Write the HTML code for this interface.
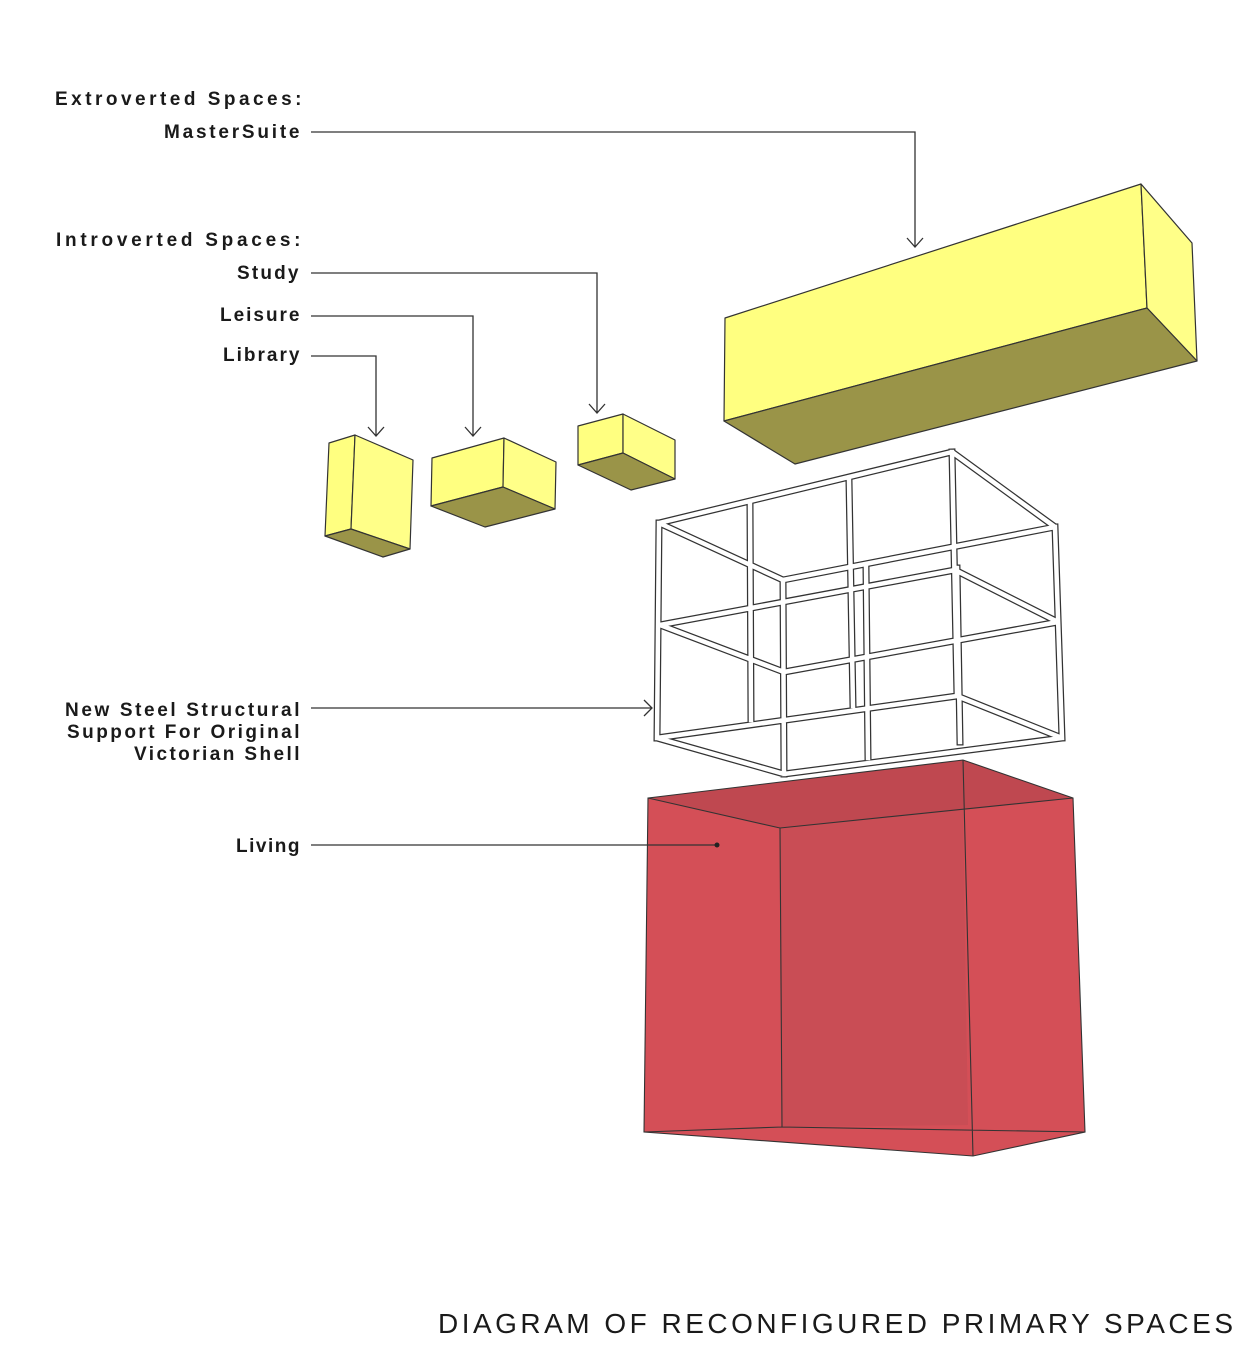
<!DOCTYPE html>
<html><head><style>body{margin:0;background:#fff}svg{display:block}</style></head><body>
<svg width="1250" height="1357" viewBox="0 0 1250 1357" xmlns="http://www.w3.org/2000/svg" font-family="Liberation Sans, sans-serif">
<g font-size="19" font-weight="bold" fill="#1a1a1a" letter-spacing="1.5">
<text x="55" y="105" textLength="248">Extroverted Spaces:</text>
<text x="301" y="138" text-anchor="end" textLength="137">MasterSuite</text>
<text x="56" y="246" textLength="246">Introverted Spaces:</text>
<text x="300" y="279" text-anchor="end" textLength="63">Study</text>
<text x="301" y="321" text-anchor="end" textLength="81">Leisure</text>
<text x="301" y="361" text-anchor="end" textLength="78">Library</text>
<text x="301" y="716" text-anchor="end" textLength="236">New Steel Structural</text>
<text x="301" y="738" text-anchor="end" textLength="234">Support For Original</text>
<text x="301" y="760" text-anchor="end" textLength="167">Victorian Shell</text>
<text x="301" y="852" text-anchor="end" textLength="65">Living</text>
</g>
<text x="438" y="1333" font-size="28" fill="#1a1a1a" textLength="795">DIAGRAM OF RECONFIGURED PRIMARY SPACES</text>
<g fill="none" stroke="#333" stroke-width="1.3">
<path d="M311 132H915V247M907 238L915 247L923 238"/>
<path d="M311 273H597V413M589 404L597 413L605 404"/>
<path d="M311 316H473V436M465 427L473 436L481 427"/>
<path d="M311 356H376V436M368 427L376 436L384 427"/>
<path d="M311 708H652M644 700L652 708L644 716"/>
</g>
<g stroke="#333" stroke-width="1.2" stroke-linejoin="round">
<polygon fill="#ffff80" points="329,443 355,435 351,529 325,536"/>
<polygon fill="#ffff88" points="355,435 413,460 410,549 351,529"/>
<polygon fill="#9a9448" points="325,536 351,529 410,549 383,557"/>
<polygon fill="#ffff80" points="432,458 504,438 503,487 431,506"/>
<polygon fill="#ffff88" points="504,438 556,462 555,509 503,487"/>
<polygon fill="#9a9448" points="431,506 503,487 555,509 485,527"/>
<polygon fill="#ffff80" points="578,426 623,414 623,453 578,465"/>
<polygon fill="#ffff88" points="623,414 675,440 675,479 623,453"/>
<polygon fill="#9a9448" points="578,465 623,453 675,479 631,490"/>
<polygon fill="#ffff80" points="725,318 1141,184 1147,308 724,421"/>
<polygon fill="#ffff88" points="1141,184 1192,243 1197,361 1147,308"/>
<polygon fill="#9a9448" points="724,421 1147,308 1197,361 795,464"/>
</g>
<g>
<polygon fill="#d44f57" points="648,798 963,760 1073,798 1085,1132 973,1156 644,1132"/>
<polygon fill="#bf4850" points="648,798 963,760 1073,798 780,828"/>
<polygon fill="#c94d55" points="780,828 963,810 968,1125 782,1127"/>
<g fill="none" stroke="#333" stroke-width="1.1">
<polygon points="648,798 963,760 1073,798 1085,1132 973,1156 644,1132"/>
<path d="M648,798 780,828 1073,798M780,828 782,1127M963,760 973,1156M644,1132 782,1127 1085,1132"/>
</g>
</g>
<path d="M311 845H717" fill="none" stroke="#333" stroke-width="1.3"/>
<circle cx="717" cy="845" r="2.5" fill="#222"/>
<g fill="none" stroke-linejoin="round" stroke-linecap="square">
<path stroke="#333" stroke-width="7" d="M659,523 952,452 1055,527 783,580Z M657,738 957,696 1062,738 784,774Z M660,625 955,570 1058,622 784,672Z M659,523 657,738 M952,452 957,696 M1055,527 1062,738 M783,580 784,774 M750,505 751,720 M849,481 853,706 M866,568 868,758 M957,568 960,742"/>
<path stroke="#fff" stroke-width="4.5" d="M659,523 952,452 1055,527 783,580Z M657,738 957,696 1062,738 784,774Z M660,625 955,570 1058,622 784,672Z M659,523 657,738 M952,452 957,696 M1055,527 1062,738 M783,580 784,774 M750,505 751,720 M849,481 853,706 M866,568 868,758 M957,568 960,742"/>
</g>
</svg>
</body></html>
